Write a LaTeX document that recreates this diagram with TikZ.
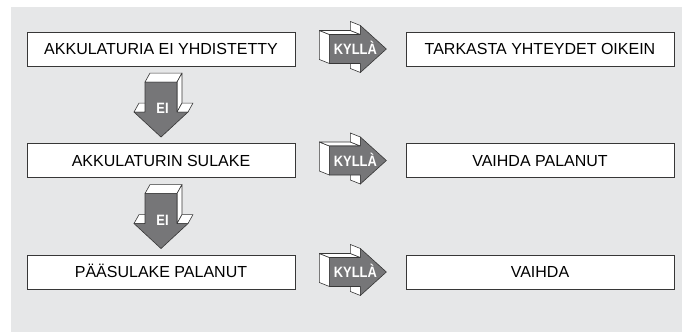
\documentclass[tikz,border=0pt]{standalone}
\usepackage{fontspec}
\usepackage{graphicx}
\setmainfont{Liberation Sans}
\usetikzlibrary{calc,shadows}
\definecolor{bg}{RGB}{230,231,232}
\definecolor{arrowgray}{RGB}{118,118,120}
\definecolor{edgecol}{RGB}{55,55,55}
\begin{document}
\begin{tikzpicture}[x=1pt,y=-1pt,
  box/.style={draw=edgecol, line width=0.7pt, fill=white, minimum width=268pt,
    minimum height=34pt, inner sep=0pt, text height=11.5pt, text depth=0pt,
    font=\fontsize{16}{19}\selectfont,
    general shadow={fill=black!45, shadow xshift=0.9pt, shadow yshift=-0.9pt}},
  face/.style={draw=edgecol, line width=0.6pt, line join=round, fill=white},
  frontface/.style={face, fill=arrowgray},
  arrowlabel/.style={text=white, font=\fontsize{15}{18}\selectfont\bfseries,
    inner sep=0pt, anchor=base},
  rarrow/.pic={
    \path[face] (0,-14.5) -- (0,14.5) -- (-10,10.5) -- (-10,-18.5) -- cycle;
    \path[face] (0,-14.5) -- (31,-14.5) -- (21,-18.5) -- (-10,-18.5) -- cycle;
    \path[face] (31,-23.5) -- (31,-14.5) -- (21,-18.5) -- (21,-27.5) -- cycle;
    \path[face] (31,14.5) -- (31,23.5) -- (21,19.5) -- (21,10.5) -- cycle;
    \path[frontface] (0,-14.5) -- (31,-14.5) -- (31,-23.5) -- (57,0) -- (31,23.5)
      -- (31,14.5) -- (0,14.5) -- cycle;
    \node[arrowlabel] (label) at (26,5.5) {\scalebox{0.86}[1]{KYLLÀ}};
  },
  darrow/.pic={
    \path[face] (-16,0) -- (16,0) -- (21,-9) -- (-11,-9) -- cycle;
    \path[face] (16,0) -- (21,-9) -- (21,21) -- (16,30) -- cycle;
    \path[face] (16,30) -- (27,30) -- (32,21) -- (21,21) -- cycle;
    \path[face] (-27,30) -- (-16,30) -- (-11,21) -- (-22,21) -- cycle;
    \path[frontface] (-16,0) -- (16,0) -- (16,30) -- (27,30) -- (0,55)
      -- (-27,30) -- (-16,30) -- cycle;
    \node[arrowlabel] (label) at (1.5,31.6) {\scalebox{0.86}[1]{EI}};
  }]
\useasboundingbox (0,0) rectangle (682,332);
\fill[bg] (11,7) rectangle (682,332);

\node[box] (a1) at (161,49) {AKKULATURIA EI YHDISTETTY};
\node[box] (b1) at (540,49) {TARKASTA YHTEYDET OIKEIN};
\node[box] (a2) at (161,160.5) {AKKULATURIN SULAKE};
\node[box] (b2) at (540,160.5) {VAIHDA PALANUT};
\node[box] (a3) at (161,272) {PÄÄSULAKE PALANUT};
\node[box] (b3) at (540,272) {VAIHDA};

\pic (k1) at ($(a1.east)+(34,0)$) {rarrow};
\pic (k2) at ($(a2.east)+(34,0)$) {rarrow};
\pic (k3) at ($(a3.east)+(34,0)$) {rarrow};
\pic (e1) at ($(a1.south)+(0,15.7)$) {darrow};
\pic (e2) at ($(a2.south)+(0,15.7)$) {darrow};
\end{tikzpicture}
\end{document}
